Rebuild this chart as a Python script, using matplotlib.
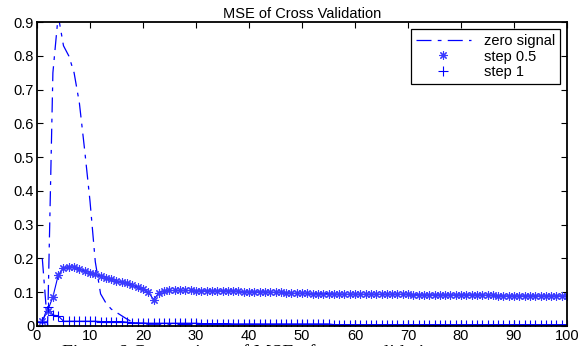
#!/usr/bin/env python3

import matplotlib
matplotlib.use("Agg")
import matplotlib.pyplot as plt

# iteration index 1..100
steps = list(range(1, 101))

zero_signal = [
    0.200, 0.000, 0.750, 0.920, 0.830, 0.800, 0.750, 0.660, 0.520, 0.370,
    0.190, 0.095, 0.068, 0.050, 0.040, 0.030, 0.020, 0.012, 0.008, 0.006,
    0.005, 0.005, 0.005, 0.005, 0.005, 0.005, 0.004, 0.004, 0.004, 0.004,
    0.004, 0.004, 0.004, 0.004, 0.004, 0.004, 0.004, 0.004, 0.004, 0.004,
    0.004, 0.004, 0.004, 0.004, 0.004, 0.004, 0.004, 0.004, 0.004, 0.004,
    0.004, 0.004, 0.004, 0.004, 0.004, 0.001, 0.001, 0.001, 0.001, 0.001,
    0.001, 0.001, 0.001, 0.001, 0.001, 0.001, 0.001, 0.001, 0.001, 0.001,
    0.001, 0.001, 0.001, 0.001, 0.001, 0.001, 0.001, 0.001, 0.001, 0.001,
    0.001, 0.001, 0.001, 0.001, 0.001, 0.001, 0.001, 0.001, 0.001, 0.001,
    0.001, 0.001, 0.001, 0.001, 0.001, 0.001, 0.001, 0.001, 0.001, 0.001,
]

step_half = [
    0.015, 0.045, 0.086, 0.150, 0.172, 0.176, 0.174, 0.168, 0.163, 0.158,
    0.153, 0.148, 0.143, 0.138, 0.134, 0.130, 0.126, 0.121, 0.115, 0.108,
    0.100, 0.078, 0.098, 0.103, 0.105, 0.105, 0.105, 0.105, 0.105, 0.104,
    0.104, 0.104, 0.104, 0.104, 0.104, 0.104, 0.104, 0.103, 0.101, 0.101,
    0.101, 0.101, 0.101, 0.100, 0.100, 0.100, 0.099, 0.097, 0.097, 0.097,
    0.097, 0.096, 0.096, 0.096, 0.096, 0.095, 0.094, 0.094, 0.094, 0.094,
    0.094, 0.094, 0.094, 0.094, 0.094, 0.094, 0.094, 0.094, 0.094, 0.094,
    0.093, 0.092, 0.092, 0.092, 0.092, 0.092, 0.092, 0.092, 0.092, 0.092,
    0.092, 0.092, 0.092, 0.092, 0.091, 0.091, 0.090, 0.089, 0.089, 0.089,
    0.089, 0.089, 0.089, 0.089, 0.089, 0.089, 0.089, 0.089, 0.089, 0.089,
]

step_one = [
    0.012, 0.056, 0.032, 0.030, 0.014, 0.014, 0.014, 0.014, 0.014, 0.014,
    0.014, 0.013, 0.013, 0.013, 0.013, 0.013, 0.011, 0.010, 0.009, 0.009,
    0.008, 0.008, 0.008, 0.008, 0.008, 0.008, 0.008, 0.008, 0.008, 0.008,
    0.007, 0.007, 0.007, 0.007, 0.007, 0.007, 0.006, 0.006, 0.006, 0.006,
    0.006, 0.006, 0.006, 0.006, 0.006, 0.006, 0.006, 0.006, 0.006, 0.006,
    0.006, 0.006, 0.006, 0.006, 0.006, 0.004, 0.004, 0.004, 0.004, 0.004,
    0.004, 0.004, 0.004, 0.004, 0.004, 0.004, 0.004, 0.004, 0.004, 0.004,
    0.004, 0.004, 0.004, 0.004, 0.004, 0.004, 0.004, 0.004, 0.004, 0.004,
    0.004, 0.004, 0.004, 0.004, 0.004, 0.004, 0.004, 0.004, 0.004, 0.004,
    0.004, 0.004, 0.004, 0.004, 0.004, 0.004, 0.004, 0.004, 0.004, 0.004,
]

plt.rcParams['font.family'] = ['Liberation Sans', 'DejaVu Sans']

fig = plt.figure(figsize=(5.78, 3.46), dpi=100)
ax = fig.add_axes([0.064, 0.058, 0.917, 0.878])

ax.plot(steps, zero_signal, color='blue', linewidth=0.9,
        linestyle=(0, (12, 5, 3, 5)), label='zero signal')
# connecting lines drawn apart so the legend only shows the markers
ax.plot(steps, step_half, color='blue', linewidth=0.8)
ax.plot(steps, step_one, color='blue', linewidth=0.8)
ax.plot(steps, step_half, linestyle='none', marker=(8, 2, 0),
        markersize=6, markeredgewidth=0.8, markeredgecolor='#3a3aff',
        label='step 0.5')
ax.plot(steps, step_one, linestyle='none', marker='+', color='blue',
        markersize=7, markeredgewidth=0.8, label='step 1')

ax.set_xlim(0, 100)
ax.set_ylim(0, 0.9)
ax.set_xticks(range(0, 101, 10))
ax.set_yticks([i / 10 for i in range(10)])
ax.set_yticklabels(['0'] + ['0.%d' % i for i in range(1, 10)])
ax.tick_params(direction='in', top=True, right=True, labelsize=10.5,
               length=4, width=0.8, pad=2)
for s in ax.spines.values():
    s.set_linewidth(1.3)

ax.set_title('MSE of Cross Validation', fontsize=10.5, pad=3)

leg = ax.legend(loc='upper right', fontsize=10.5, fancybox=False,
                edgecolor='black', framealpha=1, handlelength=3.8,
                handletextpad=0.9, borderpad=0.3, labelspacing=0.12,
                borderaxespad=0.5)
leg.get_frame().set_linewidth(0.9)

fig.text(0.107, 0.005, 'Figure 6 Comparison of MSE of cross validation',
         fontsize=14, family='Liberation Serif', va='top')

fig.savefig('out.png', dpi=100)
